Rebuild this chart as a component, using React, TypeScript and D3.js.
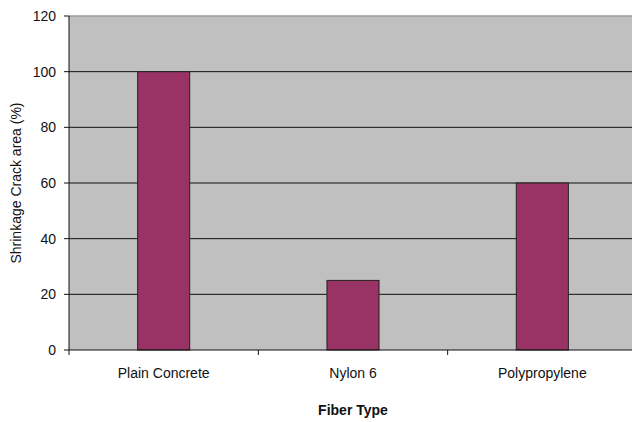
import React from 'react';
import * as d3 from 'd3';

const categories = ['Plain Concrete', 'Nylon 6', 'Polypropylene'];
const values = [100, 25, 60];
const yTicks = [0, 20, 40, 60, 80, 100, 120];

const W = 632;
const H = 422;
const margin = { left: 69, top: 16, right: -5, bottom: 72 };
const font = 'Liberation Sans, Arial, sans-serif';

export default function App() {
  const x0 = margin.left;
  const x1 = W - margin.right;
  const y0 = H - margin.bottom;
  const y1 = margin.top;

  const x = d3
    .scaleBand<string>()
    .domain(categories)
    .range([x0, x1])
    .paddingInner(0.725)
    .paddingOuter(0.3625);
  const y = d3.scaleLinear().domain([0, 120]).range([y0, y1]);
  const step = (x1 - x0) / categories.length;
  const boundaries = d3.range(categories.length + 1).map((i) => x0 + i * step);

  return (
    <div style={{ position: 'fixed', left: 0, top: 0 }}>
      <svg width={W} height={H} style={{ display: 'block', background: '#fff' }}>
        <rect x={x0} y={y1} width={x1 - x0} height={y0 - y1} fill="#c0c0c0" />
        {yTicks.map((t) => (
          <g key={t}>
            {t > 0 && t < 120 && (
              <line x1={x0} x2={x1} y1={y(t)} y2={y(t)} stroke="#111" strokeWidth={1} />
            )}
            <line x1={x0 - 5} x2={x0} y1={y(t)} y2={y(t)} stroke="#111" />
            <text
              x={x0 - 13}
              y={y(t)}
              dy="0.35em"
              textAnchor="end"
              fontFamily={font}
              fontSize={14}
              fill="#111"
            >
              {t}
            </text>
          </g>
        ))}
        <line x1={x0} x2={x1} y1={y1} y2={y1} stroke="#9a9a9a" strokeWidth={1.5} />
        {categories.map((c, i) => (
          <rect
            key={c}
            x={x(c)}
            y={y(values[i])}
            width={x.bandwidth()}
            height={y0 - y(values[i])}
            fill="#993366"
            stroke="#222"
            strokeWidth={1}
          />
        ))}
        <line x1={x0} x2={x0} y1={y1} y2={y0} stroke="#111" />
        <line x1={x0} x2={x1} y1={y0} y2={y0} stroke="#111" />
        {boundaries.map((b, i) => (
          <line key={i} x1={b} x2={b} y1={y0} y2={y0 + 5} stroke="#111" />
        ))}
        {categories.map((c) => (
          <text
            key={c}
            x={(x(c) as number) + x.bandwidth() / 2}
            y={y0 + 28}
            textAnchor="middle"
            fontFamily={font}
            fontSize={14}
            fill="#111"
          >
            {c}
          </text>
        ))}
        <text
          x={(x0 + x1) / 2}
          y={415}
          textAnchor="middle"
          fontFamily={font}
          fontSize={14}
          fontWeight="bold"
          fill="#111"
        >
          Fiber Type
        </text>
        <text
          transform={`translate(21,${(y0 + y1) / 2}) rotate(-90)`}
          textAnchor="middle"
          fontFamily={font}
          fontSize={14}
          fill="#111"
        >
          Shrinkage Crack area (%)
        </text>
      </svg>
    </div>
  );
}
